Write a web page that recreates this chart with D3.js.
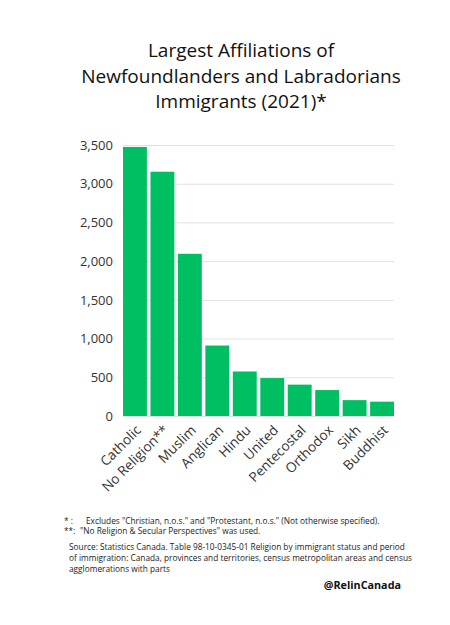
<!DOCTYPE html>
<html>
<head>
<meta charset="utf-8">
<script src="https://cdn.jsdelivr.net/npm/d3@7"></script>
<style>
  body { margin: 0; background: #fff; }
  svg { display: block; }
</style>
</head>
<body>
<svg id="chart"></svg>
<script>
// data
var categories = ["Catholic", "No Religion**", "Muslim", "Anglican", "Hindu", "United",
    "Pentecostal", "Orthodox", "Sikh", "Buddhist"];
var values = [3475, 3155, 2095, 910, 575, 490, 405, 335, 205, 185];
var yTicks = [0, 500, 1000, 1500, 2000, 2500, 3000, 3500];
var titleLines = ["Largest Affiliations of", "Newfoundlanders and Labradorians", "Immigrants (2021)*"];
var notes = [
    ["* :", "Excludes \"Christian, n.o.s.\" and \"Protestant, n.o.s.\"  (Not otherwise specified)."],
    ["**:", "\"No Religion & Secular Perspectives\" was used."]
];
var sourceLines = [
    "Source: Statistics Canada. Table 98-10-0345-01 Religion by immigrant status and period",
    "of immigration: Canada, provinces and territories, census metropolitan areas and census",
    "agglomerations with parts"
];

var W = 450, H = 625;
var font = "'Open Sans', 'Noto Sans', sans-serif";
var svg = d3.select("#chart").attr("width", W).attr("height", H);

var plotLeft = 123, plotRight = 394, plotTop = 145, plotBottom = 416;

var x = d3.scaleBand().domain(categories).range([plotLeft, plotRight]).paddingInner(0.13).paddingOuter(0);
var y = d3.scaleLinear().domain([0, 3500]).range([plotBottom, plotTop]);

// title
svg.append("g").selectAll("text")
    .data(titleLines)
    .enter().append("text")
    .attr("x", 241)
    .attr("y", function(d, i) { return 57 + i * 25.5; })
    .attr("text-anchor", "middle")
    .attr("font-family", font)
    .attr("font-size", 19)
    .attr("fill", "#111")
    .text(function(d) { return d; });

// gridlines + y labels
var yAxis = d3.axisLeft(y).tickValues(yTicks).tickFormat(d3.format(",")).tickSize(-(plotRight - plotLeft)).tickPadding(10);
var ga = svg.append("g").attr("transform", "translate(" + plotLeft + ",0)").call(yAxis);
ga.select(".domain").remove();
ga.selectAll(".tick line").attr("stroke", "#e2e2e2").attr("stroke-width", 1);
ga.selectAll(".tick text")
    .attr("font-family", font)
    .attr("font-size", 13)
    .attr("fill", "#333");

// bars
svg.append("g").selectAll("rect")
    .data(values)
    .enter().append("rect")
    .attr("x", function(d, i) { return x(categories[i]); })
    .attr("y", function(d) { return y(d); })
    .attr("width", x.bandwidth())
    .attr("height", function(d) { return y(0) - y(d); })
    .attr("fill", "#00bf63");

// x labels
svg.append("g").selectAll("text")
    .data(categories)
    .enter().append("text")
    .attr("transform", function(d) {
        return "translate(" + (x(d) + x.bandwidth() / 2 + 7) + "," + 431 + ") rotate(-45)";
    })
    .attr("text-anchor", "end")
    .attr("font-family", font)
    .attr("font-size", 13.6)
    .attr("fill", "#333")
    .text(function(d) { return d; });

// footnotes
var fn = svg.append("g").attr("font-family", font).attr("font-size", 8.3).attr("fill", "#222");
notes.forEach(function(n, i) {
    fn.append("text").attr("x", 64).attr("y", 524 + i * 10).text(n[0]);
    fn.append("text").attr("x", i == 0 ? 86 : 80).attr("y", 524 + i * 10).text(n[1]);
});
sourceLines.forEach(function(s, i) {
    fn.append("text").attr("x", 69).attr("y", 550 + i * 11).text(s);
});
svg.append("text")
    .attr("x", 401).attr("y", 589)
    .attr("text-anchor", "end")
    .attr("font-family", font)
    .attr("font-weight", "bold")
    .attr("font-size", 10.8)
    .attr("fill", "#111")
    .text("@RelinCanada");
</script>
</body>
</html>
